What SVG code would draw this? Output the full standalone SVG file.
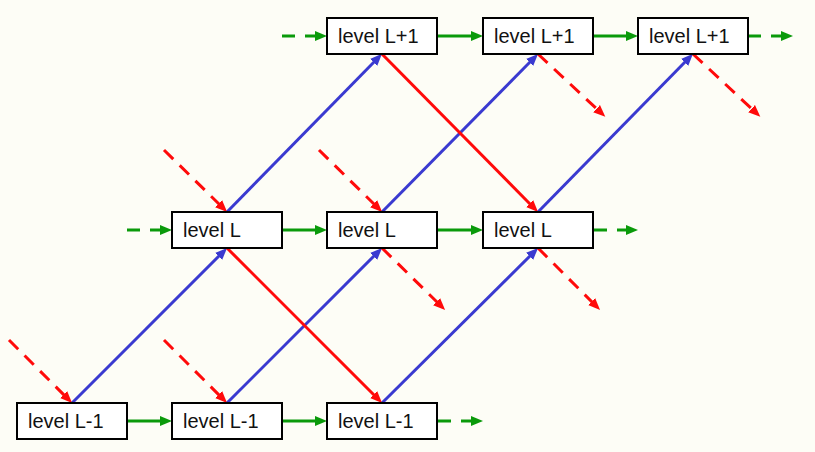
<svg xmlns="http://www.w3.org/2000/svg" width="815" height="452" viewBox="0 0 815 452">
<defs>
<style>
.box rect{fill:#ffffff;stroke:#000;stroke-width:2}
.box text{font-family:"Liberation Sans",Arial,sans-serif;font-size:20px;fill:#111}
.g{stroke:#0a9a0a;stroke-width:3;fill:none}
.b{stroke:#3a3ad0;stroke-width:3;fill:none}
.r{stroke:#ff0a0a;stroke-width:3;fill:none}
.gd{stroke-dasharray:13,10}
.rd{stroke-dasharray:13,9}
</style>
<marker id="ag" markerUnits="userSpaceOnUse" markerWidth="12" markerHeight="10" refX="2" refY="5" orient="auto"><path d="M0,0L12,5L0,10z" fill="#0a9a0a"/></marker>
<marker id="ab" markerUnits="userSpaceOnUse" markerWidth="12" markerHeight="10" refX="2" refY="5" orient="auto"><path d="M0,0L12,5L0,10z" fill="#3a3ad0"/></marker>
<marker id="ar" markerUnits="userSpaceOnUse" markerWidth="12" markerHeight="10" refX="2" refY="5" orient="auto"><path d="M0,0L12,5L0,10z" fill="#ff0a0a"/></marker>
</defs>
<rect width="815" height="452" fill="#fdfdf6"/>
<g id="connectors">
<line class="g gd" x1="282" y1="36" x2="317" y2="36" marker-end="url(#ag)"/>
<line class="g" x1="437" y1="36" x2="473" y2="36" marker-end="url(#ag)"/>
<line class="g" x1="593" y1="36" x2="628" y2="36" marker-end="url(#ag)"/>
<line class="g gd" x1="748" y1="36" x2="783" y2="36" marker-end="url(#ag)"/>
<line class="g gd" x1="127" y1="230" x2="162" y2="230" marker-end="url(#ag)"/>
<line class="g" x1="282" y1="230" x2="317" y2="230" marker-end="url(#ag)"/>
<line class="g" x1="437" y1="230" x2="473" y2="230" marker-end="url(#ag)"/>
<line class="g gd" x1="594" y1="230" x2="628" y2="230" marker-end="url(#ag)"/>
<line class="g" x1="127" y1="421" x2="162" y2="421" marker-end="url(#ag)"/>
<line class="g" x1="282" y1="421" x2="317" y2="421" marker-end="url(#ag)"/>
<line class="g gd" x1="438" y1="421" x2="473" y2="421" marker-end="url(#ag)"/>
<line class="b" x1="72" y1="403" x2="220" y2="255" marker-end="url(#ab)"/>
<line class="b" x1="227" y1="403" x2="375" y2="255" marker-end="url(#ab)"/>
<line class="b" x1="382" y1="403" x2="531" y2="255" marker-end="url(#ab)"/>
<line class="b" x1="227" y1="212" x2="375" y2="61" marker-end="url(#ab)"/>
<line class="b" x1="382" y1="212" x2="531" y2="61" marker-end="url(#ab)"/>
<line class="b" x1="538" y1="212" x2="686" y2="61" marker-end="url(#ab)"/>
<line class="r" x1="382" y1="54" x2="531" y2="205" marker-end="url(#ar)"/>
<line class="r" x1="227" y1="248" x2="375" y2="396" marker-end="url(#ar)"/>
<line class="r rd" x1="9" y1="340" x2="65" y2="396" marker-end="url(#ar)"/>
<line class="r rd" x1="164" y1="340" x2="220" y2="396" marker-end="url(#ar)"/>
<line class="r rd" x1="164" y1="150" x2="220" y2="205" marker-end="url(#ar)"/>
<line class="r rd" x1="319" y1="150" x2="375" y2="205" marker-end="url(#ar)"/>
<line class="r rd" x1="538" y1="54" x2="598" y2="110" marker-end="url(#ar)"/>
<line class="r rd" x1="693" y1="54" x2="753" y2="110" marker-end="url(#ar)"/>
<line class="r rd" x1="382" y1="248" x2="438" y2="303" marker-end="url(#ar)"/>
<line class="r rd" x1="538" y1="248" x2="593" y2="303" marker-end="url(#ar)"/>
</g>
<g id="top1" class="box"><rect x="327" y="18" width="110" height="36"/><text x="338" y="43">level L+1</text></g>
<g id="top2" class="box"><rect x="483" y="18" width="110" height="36"/><text x="494" y="43">level L+1</text></g>
<g id="top3" class="box"><rect x="638" y="18" width="110" height="36"/><text x="649" y="43">level L+1</text></g>
<g id="mid1" class="box"><rect x="172" y="212" width="110" height="36"/><text x="183" y="237">level L</text></g>
<g id="mid2" class="box"><rect x="327" y="212" width="110" height="36"/><text x="338" y="237">level L</text></g>
<g id="mid3" class="box"><rect x="483" y="212" width="110" height="36"/><text x="494" y="237">level L</text></g>
<g id="bot1" class="box"><rect x="17" y="403" width="110" height="36"/><text x="28" y="428">level L-1</text></g>
<g id="bot2" class="box"><rect x="172" y="403" width="110" height="36"/><text x="183" y="428">level L-1</text></g>
<g id="bot3" class="box"><rect x="327" y="403" width="110" height="36"/><text x="338" y="428">level L-1</text></g>
</svg>
